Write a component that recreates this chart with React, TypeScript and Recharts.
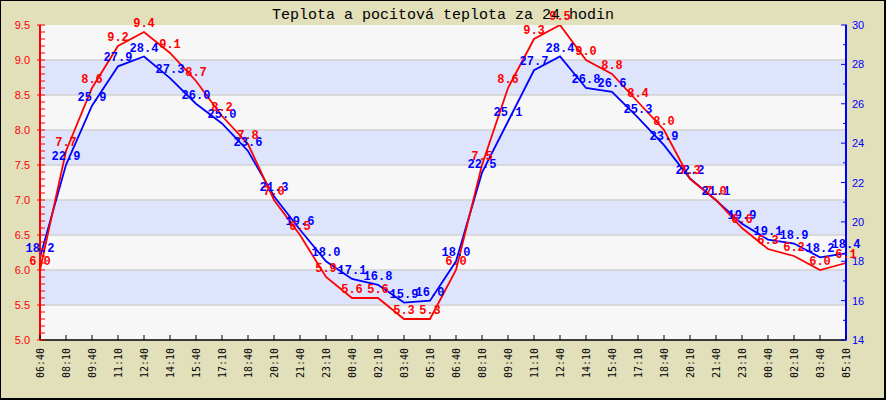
import React from "react";
import {
  LineChart,
  Line,
  XAxis,
  YAxis,
  ReferenceArea,
  ReferenceLine,
} from "recharts";

const times = [
  "06:40", "08:10", "09:40", "11:10", "12:40", "14:10", "15:40", "17:10",
  "18:40", "20:10", "21:40", "23:10", "00:40", "02:10", "03:40", "05:10",
  "06:40", "08:10", "09:40", "11:10", "12:40", "14:10", "15:40", "17:10",
  "18:40", "20:10", "21:40", "23:10", "00:40", "02:10", "03:40", "05:10",
];

// pocitová teplota (left axis)
const feelsLike = [
  6.0, 7.7, 8.6, 9.2, 9.4, 9.1, 8.7, 8.2, 7.8, 7.0, 6.5, 5.9, 5.6, 5.6, 5.3, 5.3,
  6.0, 7.5, 8.6, 9.3, 9.5, 9.0, 8.8, 8.4, 8.0, 7.3, 7.0, 6.6, 6.3, 6.2, 6.0, 6.1,
];

// teplota (right axis)
const temperature = [
  18.2, 22.9, 25.9, 27.9, 28.4, 27.3, 26.0, 25.0, 23.6, 21.3, 19.6, 18.0, 17.1, 16.8, 15.9, 16.0,
  18.0, 22.5, 25.1, 27.7, 28.4, 26.8, 26.6, 25.3, 23.9, 22.2, 21.1, 19.9, 19.1, 18.9, 18.2, 18.4,
];

const leftMajorTicks = [5.0, 5.5, 6.0, 6.5, 7.0, 7.5, 8.0, 8.5, 9.0, 9.5];
const rightMajorTicks = [14, 16, 18, 20, 22, 24, 26, 28, 30];
const gridValues = [5.5, 6.0, 6.5, 7.0, 7.5, 8.0, 8.5, 9.0];
const blueBands: [number, number][] = [
  [5.5, 6.0],
  [6.5, 7.0],
  [7.5, 8.0],
  [8.5, 9.0],
];

const title = "Teplota a pocitová teplota za 24 hodin";

const RED = "#ff0000";
const BLUE = "#0000ff";
const BG = "#e2dfbb";

const data = times.map((t, i) => ({
  i,
  t,
  feel: feelsLike[i],
  temp: temperature[i],
}));

const leftTicks: number[] = [];
for (let k = 50; k <= 95; k++) leftTicks.push(k / 10);
const rightTicks: number[] = [];
for (let k = 14; k <= 30; k++) rightTicks.push(k);
const xTicks = times.map((_, i) => i);

const LeftTick = (props: any) => {
  const { x, y, payload } = props;
  const v = payload.value as number;
  const major = leftMajorTicks.some((m) => Math.abs(m - v) < 1e-6);
  return (
    <g>
      <line x1={major ? x - 3 : x} x2={x + 5} y1={y} y2={y} stroke={RED} strokeWidth={1} />
      {major && (
        <text
          x={x - 10}
          y={y + 4}
          textAnchor="end"
          fill={RED}
          fontSize={11}
          fontFamily="Liberation Sans, Arial, sans-serif"
        >
          {v.toFixed(1)}
        </text>
      )}
    </g>
  );
};

const RightTick = (props: any) => {
  const { x, y, payload } = props;
  const v = payload.value as number;
  const major = rightMajorTicks.includes(v);
  return (
    <g>
      <line x1={major ? x - 5 : x - 3} x2={x + 1} y1={y} y2={y} stroke={BLUE} strokeWidth={1} />
      {major && (
        <text
          x={x + 6}
          y={y + 4}
          textAnchor="start"
          fill={BLUE}
          fontSize={11}
          fontFamily="Liberation Sans, Arial, sans-serif"
        >
          {v}
        </text>
      )}
    </g>
  );
};

const BottomTick = (props: any) => {
  const { x, y, payload } = props;
  const label = times[payload.value] ?? "";
  const tx = x + 3.5;
  const ty = y + 8;
  return (
    <g>
      <line x1={x} x2={x} y1={y} y2={y - 5} stroke="#000" strokeWidth={1} />
      <text
        x={tx}
        y={ty}
        transform={`rotate(-90, ${tx}, ${ty})`}
        textAnchor="end"
        fill="#000"
        fontSize={10}
        fontFamily="DejaVu Sans Mono, Liberation Mono, monospace"
      >
        {label}
      </text>
    </g>
  );
};

const makeLabel = (color: string) => (props: any) => {
  const { x, y, value } = props;
  if (x == null || y == null) return null;
  return (
    <text
      x={x}
      y={y - 5}
      textAnchor="middle"
      fill={color}
      fontSize={12}
      fontWeight="bold"
      fontFamily="Liberation Mono, DejaVu Sans Mono, monospace"
    >
      {Number(value).toFixed(1)}
    </text>
  );
};

export default function App() {
  return (
    <div
      style={{
        position: "absolute",
        left: 0,
        top: 0,
        width: 886,
        height: 400,
        background: BG,
      }}
    >
      <LineChart
        width={886}
        height={400}
        data={data}
        margin={{ top: 25, right: 0, bottom: 0, left: 0 }}
      >
        <XAxis
          xAxisId="x"
          dataKey="i"
          type="number"
          domain={[0, 31]}
          ticks={xTicks}
          interval={0}
          height={60}
          tickSize={0}
          tickMargin={0}
          tickLine={false}
          axisLine={{ stroke: "#000", strokeWidth: 1.5 }}
          tick={<BottomTick />}
        />
        <YAxis
          yAxisId="left"
          orientation="left"
          width={40}
          type="number"
          domain={[5, 9.5]}
          ticks={leftTicks}
          interval={0}
          tickSize={0}
          tickMargin={0}
          tickLine={false}
          axisLine={{ stroke: RED, strokeWidth: 2 }}
          tick={<LeftTick />}
          allowDataOverflow
        />
        <YAxis
          yAxisId="right"
          orientation="right"
          width={40}
          type="number"
          domain={[14, 30]}
          ticks={rightTicks}
          interval={0}
          tickSize={0}
          tickMargin={0}
          tickLine={false}
          axisLine={{ stroke: BLUE, strokeWidth: 2 }}
          tick={<RightTick />}
          allowDataOverflow
        />
        <ReferenceArea
          xAxisId="x"
          yAxisId="left"
          y1={5}
          y2={9.5}
          fill="#f7f7f7"
          fillOpacity={1}
          stroke="none"
        />
        {blueBands.map(([a, b]) => (
          <ReferenceArea
            key={`band-${a}`}
            xAxisId="x"
            yAxisId="left"
            y1={a}
            y2={b}
            fill="#dde4fb"
            fillOpacity={1}
            stroke="none"
          />
        ))}
        {gridValues.map((v) => (
          <ReferenceLine
            key={`grid-${v}`}
            xAxisId="x"
            yAxisId="left"
            y={v}
            stroke="#d2d2d2"
            strokeWidth={1.5}
          />
        ))}
        <Line
          xAxisId="x"
          yAxisId="right"
          dataKey="temp"
          stroke={BLUE}
          strokeWidth={1.8}
          dot={false}
          type="linear"
          isAnimationActive={false}
          label={makeLabel(BLUE)}
        />
        <Line
          xAxisId="x"
          yAxisId="left"
          dataKey="feel"
          stroke={RED}
          strokeWidth={1.8}
          dot={false}
          type="linear"
          isAnimationActive={false}
          label={makeLabel(RED)}
        />
      </LineChart>
      <svg
        width={886}
        height={400}
        style={{ position: "absolute", left: 0, top: 0, pointerEvents: "none" }}
      >
        <text
          x={443}
          y={19}
          textAnchor="middle"
          fill="#000"
          fontSize={15}
          fontFamily="Liberation Mono, DejaVu Sans Mono, monospace"
        >
          {title}
        </text>
        <rect x={0.5} y={0.5} width={884} height={398} fill="none" stroke="#000" strokeWidth={1} />
        <line x1={885} y1={0} x2={885} y2={400} stroke="#000" strokeWidth={2} />
        <line x1={0} y1={399} x2={886} y2={399} stroke="#000" strokeWidth={2} />
      </svg>
    </div>
  );
}
